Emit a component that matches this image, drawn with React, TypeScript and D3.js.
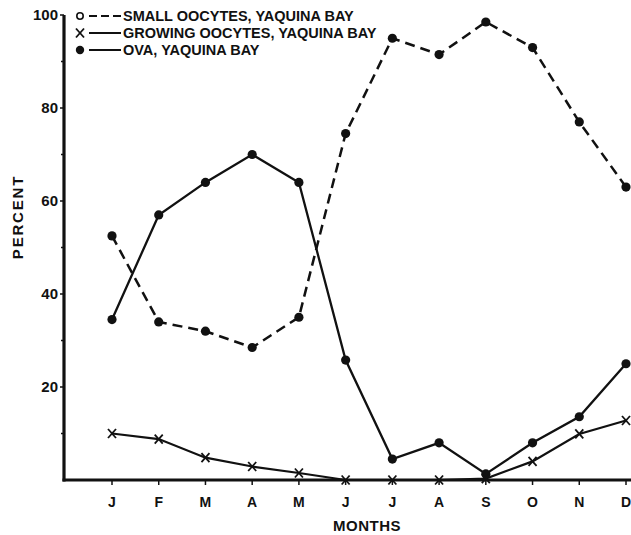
import React from "react";
import * as d3 from "d3";

const months = ["J", "F", "M", "A", "M", "J", "J", "A", "S", "O", "N", "D"];
const smallOocytes = [52.5, 34, 32, 28.5, 35, 74.5, 95, 91.5, 98.5, 93, 77, 63];
const growingOocytes = [10, 8.8, 4.8, 2.9, 1.5, 0, 0, 0, 0.3, 4, 9.9, 12.8];
const ova = [34.5, 57, 64, 70, 64, 25.8, 4.5, 8, 1.3, 8, 13.6, 25];
const yMajorTicks = [20, 40, 60, 80, 100];
const yMinorTicks = [10, 30, 50, 70, 90];
const legendLabels = [
  "SMALL OOCYTES, YAQUINA BAY",
  "GROWING OOCYTES, YAQUINA BAY",
  "OVA, YAQUINA BAY",
];

const W = 631;
const H = 535;
const FONT = "'Liberation Sans', Arial, sans-serif";

export default function App() {
  const x = d3.scaleLinear().domain([0, 11]).range([112, 626]);
  const y = d3.scaleLinear().domain([0, 100]).range([480, 15]);
  const line = d3
    .line<number>()
    .x((_, i) => x(i))
    .y((d) => y(d));

  const axisX0 = 64;
  const axisY0 = y(0);

  const xMark = (cx: number, cy: number, key: string) => (
    <g key={key} stroke="#111" strokeWidth={1.8}>
      <line x1={cx - 4} y1={cy - 4.5} x2={cx + 4} y2={cy + 4.5} />
      <line x1={cx - 4} y1={cy + 4.5} x2={cx + 4} y2={cy - 4.5} />
    </g>
  );

  const legendY = [16, 33, 50];

  return (
    <svg
      width={W}
      height={H}
      style={{ position: "absolute", left: 0, top: 0, background: "#fff" }}
      fontFamily={FONT}
    >
      <rect x={0} y={0} width={W} height={H} fill="#fff" />
      {/* axes */}
      <line x1={axisX0} y1={y(100)} x2={axisX0} y2={axisY0 + 1.5} stroke="#111" strokeWidth={3.2} />
      <line x1={axisX0 - 1.5} y1={axisY0} x2={W} y2={axisY0} stroke="#111" strokeWidth={3.2} />
      {yMajorTicks.map((t) => (
        <g key={"yt" + t}>
          <line x1={axisX0 - 4} x2={axisX0} y1={y(t)} y2={y(t)} stroke="#111" strokeWidth={1.5} />
          <text
            x={58}
            y={y(t)}
            dy="0.36em"
            textAnchor="end"
            fontSize={15}
            fontWeight="bold"
            fill="#111"
          >
            {t}
          </text>
        </g>
      ))}
      {yMinorTicks.map((t) => (
        <line key={"ym" + t} x1={axisX0 - 3} x2={axisX0} y1={y(t)} y2={y(t)} stroke="#111" strokeWidth={1.5} />
      ))}
      {months.map((m, i) => (
        <g key={"xm" + i}>
          <line x1={x(i)} x2={x(i)} y1={axisY0} y2={axisY0 + 5} stroke="#111" strokeWidth={1.5} />
          <text
            x={x(i)}
            y={507}
            textAnchor="middle"
            fontSize={14}
            fontWeight="bold"
            fill="#111"
          >
            {m}
          </text>
        </g>
      ))}
      <text x={367} y={531} textAnchor="middle" fontSize={15} fontWeight="bold" fill="#111" letterSpacing={0.5}>
        MONTHS
      </text>
      <text
        transform={`translate(23,217) rotate(-90)`}
        textAnchor="middle"
        fontSize={15}
        fontWeight="bold"
        fill="#111"
        letterSpacing={1.8}
      >
        PERCENT
      </text>

      {/* series */}
      <path
        d={line(smallOocytes) || ""}
        fill="none"
        stroke="#111"
        strokeWidth={2.5}
        strokeDasharray="10,6"
      />
      <path d={line(ova) || ""} fill="none" stroke="#111" strokeWidth={2.3} />
      <path d={line(growingOocytes) || ""} fill="none" stroke="#111" strokeWidth={2.2} />
      {smallOocytes.map((v, i) => (
        <circle key={"s" + i} cx={x(i)} cy={y(v)} r={4.6} fill="#111" />
      ))}
      {ova.map((v, i) => (
        <circle key={"o" + i} cx={x(i)} cy={y(v)} r={4.6} fill="#111" />
      ))}
      {growingOocytes.map((v, i) => xMark(x(i), y(v), "g" + i))}

      {/* legend */}
      <circle cx={80} cy={legendY[0]} r={3.2} fill="#fff" stroke="#111" strokeWidth={1.6} />
      <line x1={89} x2={121} y1={legendY[0]} y2={legendY[0]} stroke="#111" strokeWidth={2} strokeDasharray="8,4" />
      {xMark(80, legendY[1], "lx")}
      <line x1={89} x2={121} y1={legendY[1]} y2={legendY[1]} stroke="#111" strokeWidth={2} />
      <circle cx={80} cy={legendY[2]} r={4.2} fill="#111" />
      <line x1={89} x2={121} y1={legendY[2]} y2={legendY[2]} stroke="#111" strokeWidth={2} />
      {legendLabels.map((l, i) => (
        <text
          key={"lg" + i}
          x={123}
          y={legendY[i]}
          dy="0.36em"
          fontSize={14.5}
          fontWeight="bold"
          fill="#111"
        >
          {l}
        </text>
      ))}
    </svg>
  );
}
